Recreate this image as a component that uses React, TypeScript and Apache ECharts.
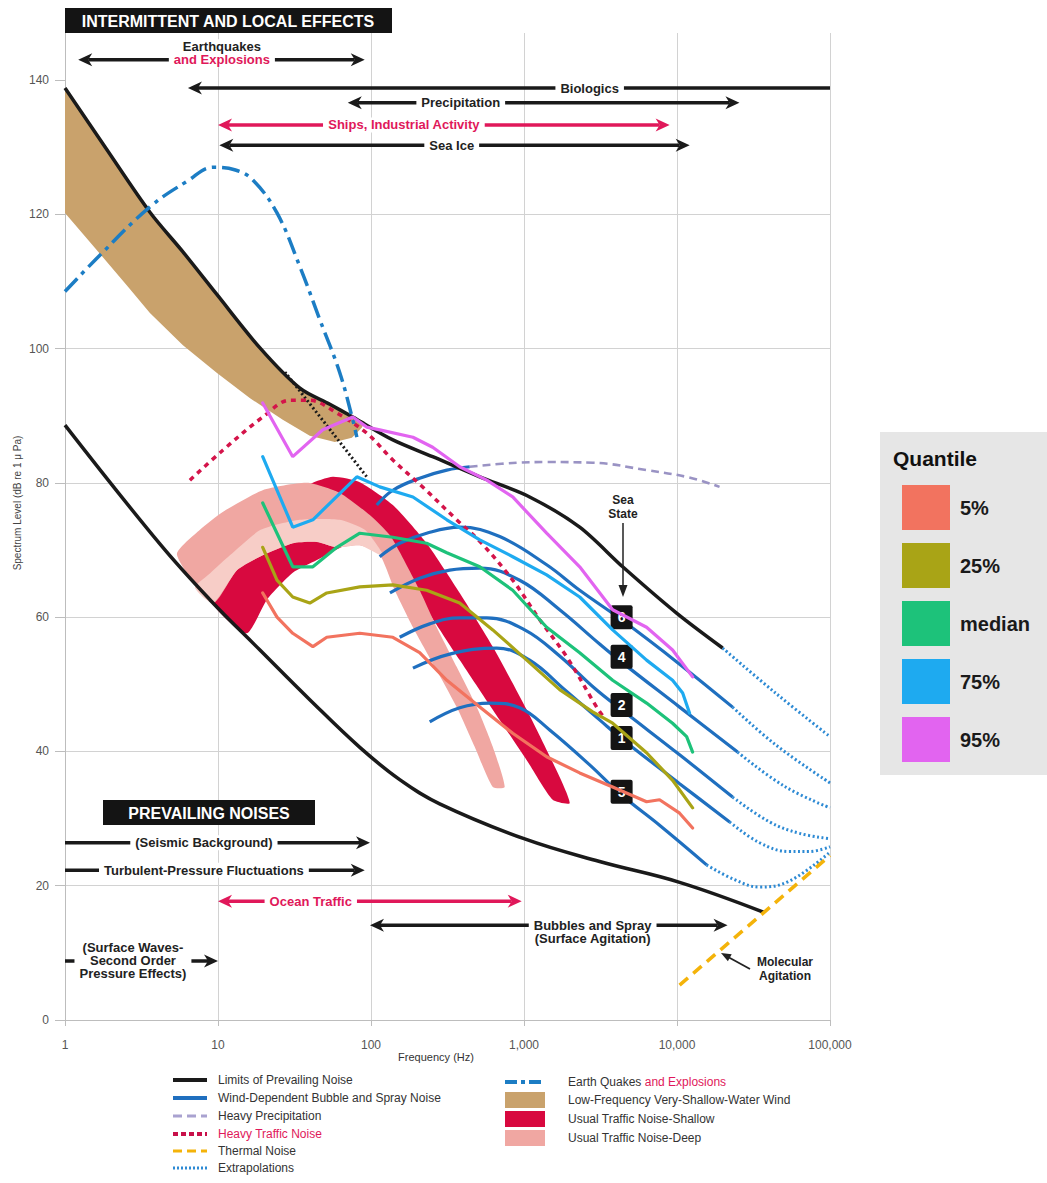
import React, { useEffect, useRef } from "react";
import * as echarts from "echarts";

const FONT = '"Liberation Sans", Arial, Helvetica, sans-serif';
const INK = "#1a1a1a";
const CRIMSON = "#E0185A";
const BLUE = "#1F6FBF";
const DOT_BLUE = "#2D8AD4";
const TAN = "#C9A26C";
const RED = "#D8093F";
const PINK = "#F0A7A2";
const LIGHT_PINK = "#F7CDC7";

const xTickLabels = ["1", "10", "100", "1,000", "10,000", "100,000"];
const yTicks = [0, 20, 40, 60, 80, 100, 120, 140];

// [frequency Hz, level dB]
const upperLimit = [[1, 138.8], [1.88, 129.6], [3.59, 120.3], [5.9, 114.4], [9.8, 108.1], [18.8, 100.1], [34.3, 94.1], [53.8, 91.7], [76, 89.8], [139, 86.4], [253, 83.9], [514, 80.9], [1089, 77.9], [2312, 73.4], [4415, 67.5], [9940, 60.6], [19860, 55.4]];
const upperLimitExt = [[19860, 55.4], [44060, 48.7], [100000, 42.2]];
const lowerLimit = [[1, 88.6], [4.17, 70.9], [8.85, 62.6], [18.8, 55.1], [39.8, 47.7], [84.5, 40.6], [154, 35.8], [281, 32.2], [1000, 27.0], [3120, 23.6], [10400, 20.5], [37300, 16.0]];
const deepLimitDotted = [[27.4, 96.5], [56.3, 87.4], [95.3, 80.7]];

const tanUpper = [[1, 138.8], [1.88, 129.6], [3.59, 120.3], [5.9, 114.4], [9.8, 108.1], [18.8, 100.1], [34.3, 94.1], [53.8, 91.7], [76, 89.8], [91, 89.1]];
const tanLower = [[1, 120.2], [1.88, 112.9], [2.58, 109.2], [3.59, 105.3], [5.9, 100.5], [9.8, 96.4], [16.2, 92.6], [26.5, 89.4], [39.8, 87.0], [58, 86.1], [75, 86.7], [87, 88.2]];

const shallowOuter = [[9.26, 62.1], [11.96, 67.0], [17.4, 72.2], [25.4, 76.7], [39.8, 79.8], [56.3, 80.9], [84.5, 80.1], [139, 76.7], [231, 71.0], [380, 63.6], [625, 55.6], [1042, 46.2], [1710, 36.2], [1987, 32.3]];
const shallowInner = [[15.4, 57.6], [20.9, 62.6], [30.8, 66.6], [44.3, 68.5], [62.5, 70.3], [91.1, 71.5], [139, 68.2], [231, 61.1], [380, 53.6], [625, 46.2], [1042, 38.7], [1540, 32.8]];
const deepOuter = [[5.39, 69.3], [7.62, 73.0], [10.8, 75.7], [19.6, 78.9], [38.1, 80.0], [62.5, 78.5], [98.2, 75.2], [133, 72.2], [154, 69.7], [208, 64.0], [269, 58.5], [363, 52.6], [491, 46.6], [625, 40.7], [748, 34.7]];
const deepInner = [[9.26, 62.1], [13.3, 67.0], [18.8, 69.0], [30.8, 71.0], [44.3, 71.2], [59.8, 70.4], [84.5, 70.7], [114, 69.3], [143, 64.0], [188, 58.5], [261, 52.6], [363, 46.6], [476, 40.7], [625, 34.7]];
const deepCoreTop = [[7.07, 64.4], [8.85, 66.5], [11.96, 69.2], [19.0, 73.0], [34.3, 74.5], [62.5, 74.5], [91.1, 73.0], [118, 69.6]];
const deepCoreBottom = [[9.26, 62.1], [13.3, 67.0], [18.8, 69.0], [30.8, 71.0], [44.3, 71.2], [59.8, 70.4], [84.5, 70.7], [114, 69.3]];

const earthquakes = [[1, 108.5], [1.69, 113.9], [3.59, 121.1], [6.36, 125.0], [9.3, 127.0], [13, 126.6], [16.9, 125.1], [24.3, 120.2], [34.3, 112.2], [46.3, 104.3], [62.5, 96.4], [76, 89.4], [80.8, 86.8]];
const heavyTraffic = [[6.55, 80.4], [10.8, 84.9], [19.6, 89.8], [29.5, 92.3], [39.8, 92.3], [59.8, 90.4], [93.9, 87.4], [139, 83.4], [215, 79.5], [363, 74.5], [514, 71.3], [844, 65.5], [1267, 59.6], [1900, 54.1], [2985, 46.6], [3300, 45.2]];
const heavyPrecip = [[442, 82.4], [900, 83.0], [1406, 83.1], [2811, 83.0], [6326, 81.9], [12000, 80.8], [18970, 79.4]];
const thermal = [[10400, 5.2], [100000, 24.5]];

const windTop = [[109, 76.7], [139, 78.9], [208, 80.7], [313, 81.9], [442, 82.4]];
const windSS6 = [[114, 69.0], [154, 71.0], [231, 72.5], [380, 73.4], [694, 72.0], [1406, 67.8], [2312, 64.0], [4345, 59.6], [10400, 53.0], [23090, 46.6]];
const windSS4 = [[133, 63.6], [208, 65.8], [327, 67.0], [514, 67.3], [937, 65.5], [1710, 61.1], [3120, 56.0], [4345, 53.3], [10400, 46.6], [24890, 39.9]];
const windSS2 = [[154, 57.0], [242, 59.0], [380, 59.9], [571, 59.9], [1011, 58.1], [1710, 54.2], [2896, 49.4], [4345, 46.2], [10400, 39.5], [23090, 33.2]];
const windSS1 = [[188, 52.4], [327, 54.5], [663, 55.4], [1089, 53.6], [1845, 49.2], [3120, 44.7], [4345, 41.9], [10400, 35.2], [22080, 29.5]];
const windSS05 = [[242, 44.4], [380, 46.5], [597, 47.2], [937, 46.5], [1472, 43.2], [2687, 38.0], [4345, 33.5], [7691, 29.0], [15610, 23.1]];
const extSS6 = [[23090, 46.6], [44060, 41.0], [100000, 35.3]];
const extSS4 = [[24890, 39.9], [50470, 34.8], [100000, 31.6]];
const extSS2 = [[23090, 33.2], [40270, 29.5], [63240, 27.8], [100000, 27.0]];
const extSS1 = [[22080, 29.5], [34670, 26.4], [54330, 25.1], [73450, 25.1], [100000, 25.8]];
const extSS05 = [[15610, 23.1], [23780, 20.9], [34670, 19.8], [54330, 20.7], [100000, 25.0]];

const seaStateFreq = 4345;
const seaStateLevels = [60.0, 54.1, 46.9, 42.0, 34.0];
const seaStateLabels = ["6", "4", "2", "1", "5"];

const quantileNames = ["5%", "25%", "median", "75%", "95%"];
const quantileColors = ["#F2735F", "#A9A416", "#1DC27A", "#1EAAF0", "#E264F0"];
const q05 = [[19.6, 63.6], [24.3, 60.0], [30.8, 57.6], [41.7, 55.6], [51.4, 57.0], [84.5, 57.6], [139, 57.0], [208, 54.7], [313, 50.6], [514, 46.6], [844, 42.7], [1406, 39.2], [2312, 36.8], [3796, 34.7], [6326, 32.5], [7691, 32.8], [10400, 30.8], [12650, 28.6]];
const q25 = [[19.6, 70.4], [24.3, 65.5], [30.8, 63.0], [39.8, 62.1], [51.4, 63.6], [84.5, 64.5], [139, 64.8], [231, 64.0], [380, 62.1], [625, 58.1], [1042, 53.6], [1710, 49.2], [2811, 45.9], [3796, 44.2], [6326, 39.8], [9355, 35.7], [12650, 31.6]];
const q50 = [[19.6, 77.0], [30.8, 67.5], [41.7, 67.5], [59.8, 70.4], [84.5, 72.5], [139, 71.9], [231, 71.0], [313, 69.6], [514, 67.5], [844, 64.0], [1406, 58.5], [2312, 54.7], [3796, 50.6], [6326, 47.2], [9355, 44.2], [11560, 42.2], [12650, 39.9]];
const q75 = [[19.6, 83.9], [30.8, 73.4], [41.7, 74.5], [56.3, 77.4], [80.8, 80.9], [114, 79.4], [188, 77.9], [313, 74.5], [514, 71.5], [844, 69.0], [1406, 66.3], [2312, 63.0], [3796, 58.1], [6326, 53.6], [9355, 50.6], [10890, 48.7], [12090, 45.7]];
const q95 = [[19.6, 91.9], [30.8, 83.9], [48.4, 87.9], [76, 89.8], [93.9, 88.3], [114, 87.9], [188, 86.8], [253, 85.3], [380, 82.4], [571, 80.4], [844, 77.9], [1406, 72.5], [2312, 67.5], [3796, 61.1], [6326, 58.5], [9355, 55.1], [12650, 51.1]];
const quantileData = [q05, q25, q50, q75, q95];

// Range annotations: frequency span, level, label position
const annotations = [
  { lines: [["Earthquakes", 0], ["and Explosions", 1]], anchor: 1, from: 1.22, to: 91, db: 143.0, at: 10.6, l: true, r: true, red: false },
  { lines: [["Biologics", 0]], anchor: 0, from: 6.36, to: 100000, db: 138.8, at: 2687, l: true, r: false, red: false },
  { lines: [["Precipitation", 0]], anchor: 0, from: 70.5, to: 25600, db: 136.6, at: 386, l: true, r: true, red: false },
  { lines: [["Ships, Industrial Activity", 1]], anchor: 0, from: 10, to: 8950, db: 133.3, at: 164, l: true, r: true, red: true },
  { lines: [["Sea Ice", 0]], anchor: 0, from: 10.2, to: 12100, db: 130.3, at: 337, l: true, r: true, red: false },
  { lines: [["(Seismic Background)", 0]], anchor: 0, from: 1, to: 98.5, db: 26.4, at: 8.09, l: false, r: true, red: false },
  { lines: [["Turbulent-Pressure Fluctuations", 0]], anchor: 0, from: 1, to: 91, db: 22.3, at: 8.09, l: false, r: true, red: false },
  { lines: [["Ocean Traffic", 1]], anchor: 0, from: 10, to: 966, db: 17.7, at: 40.4, l: true, r: true, red: true },
  { lines: [["Bubbles and Spray", 0], ["(Surface Agitation)", 0]], anchor: 0, from: 98.5, to: 21400, db: 14.1, at: 2810, l: true, r: true, red: false },
  { lines: [["(Surface Waves-", 0], ["Second Order", 0], ["Pressure Effects)", 0]], anchor: 1, from: 1, to: 10, db: 8.8, at: 2.78, l: false, r: true, red: false },
];

function lineSeries(name: string, data: any, color: string, width: number, opts: any = {}) {
  return {
    type: "line",
    name,
    data,
    symbol: "none",
    showSymbol: false,
    silent: true,
    smooth: opts.smooth ?? 0.35,
    z: opts.z ?? 3,
    lineStyle: { color, width, type: opts.dash || "solid", cap: opts.cap || "butt" },
    itemStyle: { color },
  };
}

function bandSeries(name: string, pts: number[][], fill: string, z: number, smooth: number) {
  return {
    type: "custom",
    name,
    silent: true,
    z,
    data: [[pts[0][0], pts[0][1]]],
    renderItem: (_p: any, api: any) => ({
      type: "polygon",
      shape: { points: pts.map((p) => api.coord(p)), smooth },
      style: { fill },
    }),
  };
}

function arrowHead(tipX: number, y: number, dir: number, col: string) {
  const L = 14, W = 6.5, N = 4;
  return {
    type: "polygon",
    shape: { points: [[tipX, y], [tipX - dir * L, y - W], [tipX - dir * (L - N), y], [tipX - dir * L, y + W]] },
    style: { fill: col },
  };
}

function buildOption() {
  const richStyle = (c: string) => ({ fill: c, color: c, fontSize: 13, fontWeight: "bold", fontFamily: FONT, lineHeight: 13 });

  const series: any[] = [
    bandSeries("Low-Frequency Very-Shallow-Water Wind", tanUpper.concat(tanLower.slice().reverse()), TAN, 1, 0),
    bandSeries("Usual Traffic Noise-Shallow", shallowOuter.concat(shallowInner.slice().reverse()), RED, 1, 0.2),
    bandSeries("Usual Traffic Noise-Deep", deepOuter.concat(deepInner.slice().reverse()), PINK, 1, 0.2),
    bandSeries("Usual Traffic Noise-Deep core", deepCoreTop.concat(deepCoreBottom.slice().reverse()), LIGHT_PINK, 1, 0.2),
  ];

  [windTop, windSS6, windSS4, windSS2, windSS1, windSS05].forEach((d, i) =>
    series.push(lineSeries("Wind " + i, d, BLUE, 3.2, { smooth: 0.4, z: 2 }))
  );
  [extSS6, extSS4, extSS2, extSS1, extSS05, upperLimitExt].forEach((d, i) =>
    series.push(lineSeries("Extrapolation " + i, d, DOT_BLUE, 3, { smooth: 0.4, z: 2, dash: [2, 2.5] }))
  );
  series.push(lineSeries("Upper limit", upperLimit, INK, 3.5, { z: 3, smooth: 0.3 }));
  series.push(lineSeries("Lower limit", lowerLimit, INK, 3.5, { z: 3, smooth: 0.4 }));
  series.push(lineSeries("Deep limit", deepLimitDotted, INK, 3, { z: 3, dash: [2, 2.5], smooth: 0.3 }));
  series.push(lineSeries("Heavy Precipitation", heavyPrecip, "#9A93C4", 2.6, { z: 3, dash: [8, 5], smooth: 0.4 }));
  series.push(lineSeries("Thermal Noise", thermal, "#F4B30A", 3.5, { z: 3, dash: [11, 7], smooth: false }));
  series.push(lineSeries("Heavy Traffic Noise", heavyTraffic, "#D4144A", 3.5, { z: 4, dash: [5, 5], smooth: 0.35 }));
  series.push(lineSeries("Earth Quakes and Explosions", earthquakes, "#1C7DC4", 3.5, { z: 4, dash: [18, 6, 4, 6], smooth: 0.4 }));

  series.push({
    type: "custom",
    name: "Sea State",
    silent: true,
    z: 5,
    data: seaStateLevels.map((d) => [seaStateFreq, d]),
    renderItem: (params: any, api: any) => {
      const p = api.coord([api.value(0), api.value(1)]);
      return {
        type: "group",
        children: [
          { type: "rect", shape: { x: p[0] - 11, y: p[1] - 12, width: 22, height: 24, r: 2 }, style: { fill: "#141414" } },
          { type: "text", x: p[0], y: p[1], style: { text: seaStateLabels[params.dataIndex], fill: "#fff", font: `bold 14px ${FONT}`, align: "center", verticalAlign: "middle" } },
        ],
      };
    },
  });

  quantileNames.forEach((n, i) =>
    series.push(lineSeries(n, quantileData[i], quantileColors[i], 3.2, { z: 6, smooth: false, cap: "round" }))
  );

  series.push({
    type: "custom",
    name: "Annotations",
    silent: true,
    z: 7,
    data: annotations.map((a) => [a.from, a.to, a.db]),
    encode: { x: [0, 1], y: 2 },
    renderItem: (params: any, api: any) => {
      const a = annotations[params.dataIndex];
      const p1 = api.coord([api.value(0), api.value(2)]);
      const p2 = api.coord([api.value(1), api.value(2)]);
      const pl = api.coord([a.at, api.value(2)]);
      const y = p1[1];
      const col = a.red ? CRIMSON : INK;
      const x1 = a.l ? p1[0] + 10 : p1[0];
      const x2 = a.r ? p2[0] - 10 : p2[0];
      const children: any[] = [{ type: "line", shape: { x1, y1: y, x2, y2: y }, style: { stroke: col, lineWidth: 3.5 } }];
      if (a.l) children.push(arrowHead(p1[0], y, -1, col));
      if (a.r) children.push(arrowHead(p2[0], y, 1, col));
      const n = a.lines.length;
      const text = a.lines.map((ln: any) => `{${ln[1] ? "r" : "k"}|${ln[0]}}`).join("\n");
      children.push({
        type: "text",
        x: pl[0],
        y: y + ((n - 1) / 2 - a.anchor) * 13,
        style: {
          text,
          rich: { k: richStyle("#222"), r: richStyle(CRIMSON) },
          align: "center",
          verticalAlign: "middle",
          backgroundColor: "#fff",
          padding: [1, 5],
        },
      });
      return { type: "group", children };
    },
  });

  // Bottom legend (static key)
  const g: any[] = [];
  const leftRows = [1080, 1098, 1116, 1134, 1151, 1168];
  const leftKeys = [
    { t: "Limits of Prevailing Noise", c: INK, w: 4, d: null, tc: "#333" },
    { t: "Wind-Dependent Bubble and Spray Noise", c: BLUE, w: 4, d: null, tc: "#333" },
    { t: "Heavy Precipitation", c: "#A9A2D0", w: 3, d: [9, 5], tc: "#333" },
    { t: "Heavy Traffic Noise", c: "#C8104A", w: 4, d: [5, 3], tc: CRIMSON },
    { t: "Thermal Noise", c: "#F4B30A", w: 3, d: [9, 5], tc: "#333" },
    { t: "Extrapolations", c: DOT_BLUE, w: 3, d: [2, 2], tc: "#333" },
  ];
  leftKeys.forEach((k, i) => {
    g.push({ type: "line", z: 10, shape: { x1: 173, y1: leftRows[i], x2: 207, y2: leftRows[i] }, style: { stroke: k.c, lineWidth: k.w, lineDash: k.d || undefined } });
    g.push({ type: "text", z: 10, x: 218, y: leftRows[i], style: { text: k.t, fill: k.tc, font: `12px ${FONT}`, verticalAlign: "middle" } });
  });
  const rightRows = [1082, 1100, 1119, 1138];
  g.push({ type: "line", z: 10, shape: { x1: 505, y1: rightRows[0], x2: 545, y2: rightRows[0] }, style: { stroke: "#1C7DC4", lineWidth: 4, lineDash: [12, 4, 4, 4] } });
  g.push({ type: "rect", z: 10, shape: { x: 505, y: rightRows[1] - 8, width: 40, height: 16 }, style: { fill: TAN } });
  g.push({ type: "rect", z: 10, shape: { x: 505, y: rightRows[2] - 8, width: 40, height: 16 }, style: { fill: RED } });
  g.push({ type: "rect", z: 10, shape: { x: 505, y: rightRows[3] - 8, width: 40, height: 16 }, style: { fill: PINK } });
  g.push({
    type: "text", z: 10, x: 568, y: rightRows[0],
    style: { text: "{a|Earth Quakes} {b|and Explosions}", rich: { a: { fill: "#333", fontSize: 12, fontFamily: FONT }, b: { fill: CRIMSON, fontSize: 12, fontFamily: FONT } }, verticalAlign: "middle" },
  });
  ["Low-Frequency Very-Shallow-Water Wind", "Usual Traffic Noise-Shallow", "Usual Traffic Noise-Deep"].forEach((t, i) =>
    g.push({ type: "text", z: 10, x: 568, y: rightRows[i + 1], style: { text: t, fill: "#333", font: `12px ${FONT}`, verticalAlign: "middle" } })
  );

  // Quantile panel
  g.push({ type: "rect", z: 0, shape: { x: 880, y: 432, width: 167, height: 343 }, style: { fill: "#E6E6E6" } });
  g.push({ type: "text", z: 10, x: 893, y: 458, style: { text: "Quantile", font: `bold 21px ${FONT}`, fill: "#111", verticalAlign: "middle" } });

  // Section headers
  g.push({ type: "rect", z: 100, shape: { x: 65, y: 8, width: 327, height: 25 }, style: { fill: "#141414" } });
  g.push({ type: "text", z: 101, x: 228, y: 21, style: { text: "INTERMITTENT AND LOCAL EFFECTS", font: `bold 16px ${FONT}`, fill: "#fff", align: "center", verticalAlign: "middle" } });
  g.push({ type: "rect", z: 100, shape: { x: 103, y: 800, width: 212, height: 25 }, style: { fill: "#141414" } });
  g.push({ type: "text", z: 101, x: 209, y: 813, style: { text: "PREVAILING NOISES", font: `bold 16px ${FONT}`, fill: "#fff", align: "center", verticalAlign: "middle" } });

  // Sea State pointer
  g.push({ type: "text", z: 20, x: 623, y: 507, style: { text: "Sea\nState", font: `bold 12px ${FONT}`, fill: "#222", align: "center", verticalAlign: "middle", lineHeight: 14 } });
  g.push({ type: "line", z: 20, shape: { x1: 623, y1: 523, x2: 623, y2: 588 }, style: { stroke: "#222", lineWidth: 1.5 } });
  g.push({ type: "polygon", z: 20, shape: { points: [[623, 597], [618.5, 585], [627.5, 585]] }, style: { fill: "#222" } });

  // Molecular agitation pointer
  g.push({ type: "text", z: 20, x: 785, y: 969, style: { text: "Molecular\nAgitation", font: `bold 12px ${FONT}`, fill: "#222", align: "center", verticalAlign: "middle", lineHeight: 14 } });
  g.push({ type: "line", z: 20, shape: { x1: 750, y1: 969, x2: 729, y2: 957.5 }, style: { stroke: "#222", lineWidth: 1.8 } });
  g.push({ type: "polygon", z: 20, shape: { points: [[721, 953], [731.7, 954.3], [727.9, 961.3]] }, style: { fill: "#222" } });

  // Axis titles
  g.push({ type: "text", z: 10, x: 436, y: 1057, style: { text: "Frequency (Hz)", font: `11px ${FONT}`, fill: "#333", align: "center", verticalAlign: "middle" } });
  g.push({ type: "text", z: 10, x: 17, y: 503, rotation: Math.PI / 2, style: { text: "Spectrum Level (dB re 1 \u03bc Pa)", font: `10px ${FONT}`, fill: "#444", align: "center", verticalAlign: "middle" } });

  return {
    animation: false,
    backgroundColor: "#ffffff",
    textStyle: { fontFamily: FONT },
    grid: { left: 65, right: 217, top: 33, bottom: 163 },
    xAxis: {
      type: "log",
      logBase: 10,
      min: 1,
      max: 100000,
      axisLine: { show: true, lineStyle: { color: "#bdbdbd" } },
      axisTick: { show: true, length: 6, lineStyle: { color: "#bdbdbd" } },
      axisLabel: {
        margin: 19,
        color: "#555",
        fontSize: 12,
        formatter: (v: number) => xTickLabels[Math.round(Math.log10(v))] ?? "",
      },
      splitLine: { show: true, lineStyle: { color: "#d2d2d2", width: 1 } },
    },
    yAxis: {
      type: "value",
      min: 0,
      max: 147,
      interval: 20,
      axisLine: { show: true, lineStyle: { color: "#bdbdbd" } },
      axisTick: { show: true, length: 10, lineStyle: { color: "#bdbdbd" }, customValues: yTicks },
      axisLabel: {
        margin: 16,
        color: "#555",
        fontSize: 12,
        formatter: (v: number) => (yTicks.indexOf(v) >= 0 ? String(v) : ""),
      },
      splitLine: { show: true, showMaxLine: false, lineStyle: { color: "#d2d2d2", width: 1 } },
    },
    legend: {
      data: quantileNames,
      orient: "vertical",
      left: 897,
      top: 480,
      itemWidth: 48,
      itemHeight: 45,
      itemGap: 13,
      icon: "rect",
      selectedMode: false,
      z: 5,
      textStyle: { fontSize: 20, fontWeight: "bold", color: "#1a1a1a", fontFamily: FONT, padding: [0, 0, 0, 5] },
    },
    graphic: { elements: g },
    series,
  };
}

export default function App() {
  const ref = useRef<HTMLDivElement>(null);
  useEffect(() => {
    const chart = echarts.init(ref.current as HTMLDivElement, null, { renderer: "svg" });
    chart.setOption(buildOption() as any);
    return () => chart.dispose();
  }, []);
  return (
    <div
      ref={ref}
      style={{ position: "absolute", left: 0, top: 0, width: 1047, height: 1183, background: "#fff" }}
    />
  );
}
